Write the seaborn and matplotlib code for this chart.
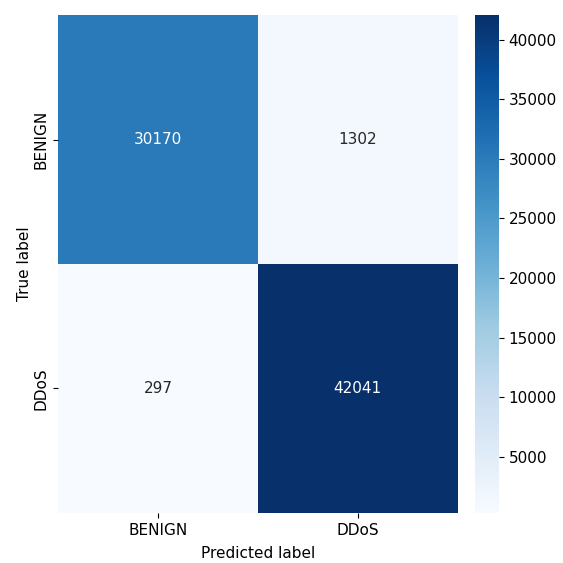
import numpy as np
import matplotlib
matplotlib.use("Agg")
import matplotlib.pyplot as plt
import seaborn as sns

labels = ["BENIGN", "DDoS"]
row_benign = [30170, 1302]
row_ddos = [297, 42041]
cbar_ticks = [5000, 10000, 15000, 20000, 25000, 30000, 35000, 40000]

cm = np.array([row_benign, row_ddos])

fig = plt.figure(figsize=(5.63, 5.63), dpi=100)
ax = fig.add_axes([0.103, 0.089, 0.710, 0.884])
cax = fig.add_axes([0.844, 0.089, 0.042, 0.884])

sns.heatmap(cm, annot=True, fmt="d", cmap="Blues", ax=ax, cbar_ax=cax,
            xticklabels=labels, yticklabels=labels,
            annot_kws={"fontsize": 11})
cax.set_yticks(cbar_ticks)
cax.tick_params(labelsize=11)
ax.tick_params(labelsize=11)
ax.set_xlabel("Predicted label", fontsize=11, labelpad=6)
ax.set_ylabel("True label", fontsize=11, labelpad=1)
for t in cax.spines.values():
    t.set_visible(False)

fig.savefig("out.png", dpi=100)
